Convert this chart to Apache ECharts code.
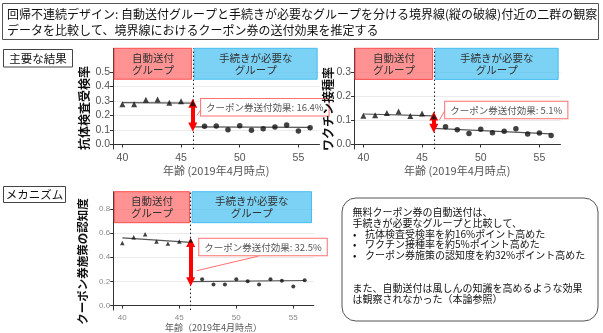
<!DOCTYPE html>
<html>
<head>
<meta charset="utf-8">
<script src="https://cdn.jsdelivr.net/npm/echarts@6.0.0/dist/echarts.min.js"></script>
<style>
  html, body { margin: 0; padding: 0; background: #fff; }
  #chart { width: 603px; height: 333px; }
</style>
</head>
<body>
<div id="chart"></div>
<script>
// ---- data ----
const autoAges = [40, 41, 42, 43, 44, 45, 46];
const reqAges = [47, 48, 49, 50, 51, 52, 53, 54, 55, 56];
const xTicks = [40, 45, 50, 55];
const cutoffAge = 46;
const fitAutoAges = [40, 46];
const fitReqAges = [46, 56];

// 抗体検査受検率
const antibodyAuto = [0.277, 0.277, 0.309, 0.311, 0.288, 0.298, 0.284];
const antibodyReq = [0.126, 0.128, 0.102, 0.130, 0.098, 0.109, 0.121, 0.134, 0.093, 0.116];
const antibodyFitAuto = [0.289, 0.285];
const antibodyFitReq = [0.121, 0.118];
const antibodyEffect = '16.4%';
const antibodyTicks = [0, 0.1, 0.2, 0.3, 0.4, 0.5];

// ワクチン接種率
const vaccineAuto = [0.119, 0.121, 0.130, 0.136, 0.118, 0.128, 0.116];
const vaccineReq = [0.073, 0.061, 0.045, 0.063, 0.049, 0.055, 0.065, 0.043, 0.047, 0.037];
const vaccineFitAuto = [0.126, 0.118];
const vaccineFitReq = [0.067, 0.044];
const vaccineEffect = '5.1%';
const vaccineTicks = [0, 0.1, 0.2, 0.3];

// クーポン券施策の認知度
const awareAuto = [0.517, 0.565, 0.589, 0.530, 0.512, 0.530, 0.538];
const awareReq = [0.218, 0.173, 0.173, 0.218, 0.200, 0.173, 0.218, 0.205, 0.157, 0.210];
const awareFitAuto = [0.560, 0.522];
const awareFitReq = [0.197, 0.207];
const awareEffect = '32.5%';
const awareTicks = [0, 0.2, 0.4, 0.6, 0.8];

const groupAutoText = '自動送付\nグループ';
const groupReqText = '手続きが必要な\nグループ';
const effectPrefix = 'クーポン券送付効果: ';

// ---- panel layout ----
const JP = "'Noto Sans CJK JP', sans-serif";
const NUM = "'Liberation Sans Narrow', 'Liberation Sans', Arial, sans-serif";

const panels = [
  {
    grid: { left: 113, top: 48.3, width: 206.5, height: 100.7 },
    yMin: -0.031, yMax: 0.663, boxLow: 0.45,
    auto: antibodyAuto, req: antibodyReq, fitAuto: antibodyFitAuto, fitReq: antibodyFitReq,
    effect: antibodyEffect, yTicks: antibodyTicks,
    labelAt: [46.71, 0.257], connector: [[46.38, 0.203], [46.77, 0.25]],
    xName: '年齢 (2019年4月時点)', xNameGap: 14, xNameSize: 11,
    tickSize: 10.5, tickColor: '#555', triSize: 6, dotSize: 5.5
  },
  {
    grid: { left: 354, top: 48.3, width: 206.5, height: 100.7 },
    yMin: -0.0186, yMax: 0.3975, boxLow: 0.269,
    auto: vaccineAuto, req: vaccineReq, fitAuto: vaccineFitAuto, fitReq: vaccineFitReq,
    effect: vaccineEffect, yTicks: vaccineTicks,
    labelAt: [46.97, 0.1426], connector: [[46.48, 0.101], [46.97, 0.1426]],
    xName: '年齢 (2019年4月時点)', xNameGap: 14, xNameSize: 11,
    tickSize: 10.5, tickColor: '#555', triSize: 6, dotSize: 5.5
  },
  {
    grid: { left: 113.2, top: 191.7, width: 200.6, height: 122.3 },
    yMin: -0.0376, yMax: 0.941, boxLow: 0.685,
    auto: awareAuto, req: awareReq, fitAuto: awareFitAuto, fitReq: awareFitReq,
    effect: awareEffect, yTicks: awareTicks,
    labelAt: [46.75, 0.484], connector: [[46.53, 0.288], [51.93, 0.408]],
    xName: '年齢（2019年4月時点）', xNameGap: 7, xNameSize: 9,
    tickSize: 8, tickColor: '#888', triSize: 4.5, dotSize: 4
  }
];

const grids = [], xAxes = [], yAxes = [], series = [];

panels.forEach((p, i) => {
  grids.push(Object.assign({ containLabel: false }, p.grid));
  xAxes.push({
    gridIndex: i, type: 'value', min: 39.2, max: 56.8,
    axisLine: { show: true, lineStyle: { color: '#333', width: 1 } },
    axisTick: { show: true, length: 3, lineStyle: { color: '#333' }, customValues: xTicks },
    axisLabel: { color: p.tickColor, fontSize: p.tickSize, fontFamily: NUM, margin: 4, customValues: xTicks },
    splitLine: { show: false },
    name: p.xName, nameLocation: 'middle', nameGap: p.xNameGap,
    nameTextStyle: { color: '#555', fontSize: p.xNameSize, fontFamily: JP }
  });
  yAxes.push({
    gridIndex: i, type: 'value', min: p.yMin, max: p.yMax,
    axisLine: { show: true, lineStyle: { color: '#333', width: 1 } },
    axisTick: { show: true, length: 3, lineStyle: { color: '#333' }, customValues: p.yTicks },
    axisLabel: {
      color: p.tickColor, fontSize: p.tickSize, fontFamily: NUM, margin: 3,
      customValues: p.yTicks, formatter: v => v.toFixed(1)
    },
    splitLine: { show: true, lineStyle: { color: '#ebebeb', width: 1 } }
  });

  const common = { xAxisIndex: i, yAxisIndex: i, animation: false, silent: true };

  // fitted line, automatic-mailing side, carries the group boxes and cutoff line
  series.push(Object.assign({}, common, {
    type: 'line', z: 3,
    data: fitAutoAges.map((a, k) => [a, p.fitAuto[k]]),
    showSymbol: false, lineStyle: { color: '#555', width: 1.2 },
    markArea: {
      silent: true,
      label: { show: true, position: 'inside', color: '#333', fontSize: 10.5, lineHeight: 12, fontFamily: JP },
      data: [
        [{ name: groupAutoText, xAxis: 39.3, yAxis: p.boxLow,
           itemStyle: { color: 'rgba(255,110,110,0.75)', borderColor: '#ff4d4d', borderWidth: 1 } },
         { xAxis: 45.9, yAxis: p.yMax }],
        [{ name: groupReqText, xAxis: 46.12, yAxis: p.boxLow,
           itemStyle: { color: 'rgba(80,195,240,0.75)', borderColor: '#45bdf0', borderWidth: 1 } },
         { xAxis: 56.6, yAxis: p.yMax }]
      ]
    },
    markLine: {
      silent: true, symbol: 'none', label: { show: false },
      data: [
        { xAxis: cutoffAge, lineStyle: { type: [1.5, 2.5], color: '#222', width: 1 } },
        [{ coord: p.connector[0], lineStyle: { type: 'solid', color: '#ff6f6f', width: 1 } },
         { coord: p.connector[1] }]
      ]
    },
    markPoint: {
      silent: true, symbol: 'circle', symbolSize: 0,
      label: {
        show: true, position: 'right', distance: 0,
        color: '#555', fontSize: 9.5, fontFamily: JP,
        backgroundColor: '#fff', borderColor: '#ff7070', borderWidth: 1,
        padding: [4, 5, 3, 5],
        formatter: () => effectPrefix + p.effect
      },
      data: [{ coord: p.labelAt }]
    }
  }));

  // fitted line, application-required side, carries the effect arrow
  series.push(Object.assign({}, common, {
    type: 'line', z: 3,
    data: fitReqAges.map((a, k) => [a, p.fitReq[k]]),
    showSymbol: false, lineStyle: { color: '#555', width: 1.2 },
    markLine: {
      silent: true, symbol: ['triangle', 'triangle'], symbolSize: 9,
      label: { show: false },
      lineStyle: { type: 'solid', color: '#ff0000', width: 4 },
      data: [[{ coord: [cutoffAge, p.fitAuto[1]] }, { coord: [cutoffAge, p.fitReq[0]] }]]
    }
  }));

  series.push(Object.assign({}, common, {
    type: 'scatter', z: 5, symbol: 'triangle', symbolSize: p.triSize,
    itemStyle: { color: '#111' },
    data: autoAges.map((a, k) => [a, p.auto[k]])
  }));
  series.push(Object.assign({}, common, {
    type: 'scatter', z: 5, symbol: 'circle', symbolSize: p.dotSize,
    itemStyle: { color: '#111' },
    data: reqAges.map((a, k) => [a, p.req[k]])
  }));
});

// ---- titles, section labels and summary box ----
const yTitle = (text, x, y, size) => ({
  type: 'text', x: x, y: y, rotation: Math.PI / 2, silent: true, z: 10,
  style: { text: text, fill: '#111', font: 'bold ' + size + 'px ' + JP, align: 'center', verticalAlign: 'middle' }
});
const sectionLabel = (text, x, y, w, h) => ({
  type: 'group', silent: true, children: [
    { type: 'rect', shape: { x: x, y: y, width: w, height: h },
      style: { fill: '#fff', stroke: '#444', lineWidth: 1 } },
    { type: 'text', x: x + w / 2, y: y + h / 2,
      style: { text: text, fill: '#111', font: '11.5px ' + JP, align: 'center', verticalAlign: 'middle' } }
  ]
});

const headerLines = [
  '回帰不連続デザイン: 自動送付グループと手続きが必要なグループを分ける境界線(縦の破線)付近の二群の観察',
  'データを比較して、境界線におけるクーポン券の送付効果を推定する'
];
const summaryLines = [
  { text: '無料クーポン券の自動送付は、', bullet: false },
  { text: '手続きが必要なグループと比較して、', bullet: false },
  { text: '抗体検査受検率を約16%ポイント高めた', bullet: true },
  { text: 'ワクチン接種率を約5%ポイント高めた', bullet: true },
  { text: 'クーポン券施策の認知度を約32%ポイント高めた', bullet: true },
  { text: '', bullet: false },
  { text: '', bullet: false },
  { text: 'また、自動送付は風しんの知識を高めるような効果', bullet: false },
  { text: 'は観察されなかった（本論参照）', bullet: false }
];

const graphics = [
  { type: 'rect', silent: true, shape: { x: 2.5, y: 3.5, width: 596, height: 36 },
    style: { fill: '#fff', stroke: '#555', lineWidth: 1 } },
  ...headerLines.map((t, k) => ({
    type: 'text', silent: true, x: 7, y: 14 + k * 16,
    style: { text: t, fill: '#111', font: '12px ' + JP, verticalAlign: 'middle' }
  })),
  sectionLabel('主要な結果', 3.5, 49.5, 69, 17.5),
  sectionLabel('メカニズム', 3.5, 186.5, 62, 16),
  yTitle('抗体検査受検率', 84, 108, 12),
  yTitle('ワクチン接種率', 328, 109, 12),
  yTitle('クーポン券施策の認知度', 82.5, 261.5, 11.5),
  { type: 'rect', silent: true, shape: { x: 342, y: 198, width: 256, height: 123, r: 14 },
    style: { fill: '#fff', stroke: '#555', lineWidth: 1 } }
];
summaryLines.forEach((l, k) => {
  const y = 212 + k * 10.9;
  if (l.bullet) {
    graphics.push({ type: 'text', silent: true, x: 353, y: y,
      style: { text: '•', fill: '#111', font: '10px ' + JP, verticalAlign: 'middle' } });
  }
  if (l.text) {
    graphics.push({ type: 'text', silent: true, x: l.bullet ? 365 : 352.5, y: y,
      style: { text: l.text, fill: '#111', font: '10px ' + JP, verticalAlign: 'middle' } });
  }
});

const chart = echarts.init(document.getElementById('chart'), null, { renderer: 'canvas' });
chart.setOption({
  animation: false,
  backgroundColor: '#fff',
  textStyle: { fontFamily: JP },
  grid: grids,
  xAxis: xAxes,
  yAxis: yAxes,
  series: series,
  graphic: graphics
});
</script>
</body>
</html>
